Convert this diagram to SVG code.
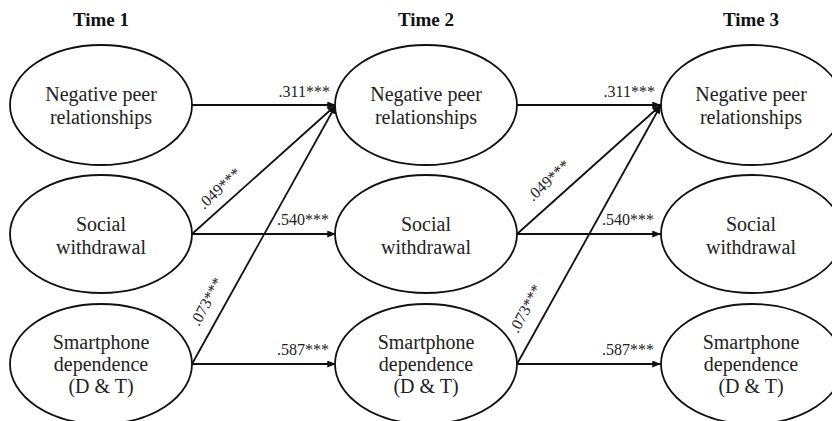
<svg xmlns="http://www.w3.org/2000/svg" width="832" height="421" viewBox="0 0 832 421">
<style>
.node ellipse{fill:#fff;stroke:#111;stroke-width:1.8}
.lbl{font-family:"Liberation Serif","Times New Roman",serif;font-size:20px;fill:#222;text-anchor:middle}
.hdr{font-family:"Liberation Serif","Times New Roman",serif;font-size:19px;font-weight:bold;fill:#111;text-anchor:middle}
.coef{font-family:"Liberation Serif","Times New Roman",serif;font-size:16px;fill:#222}
#connectors line{stroke:#111;stroke-width:1.8;marker-end:url(#arr)}
</style>
<defs>
<marker id="arr" viewBox="0 0 10 8" refX="10" refY="4" markerWidth="9" markerHeight="7" markerUnits="userSpaceOnUse" orient="auto">
<path d="M0,0 L10,4 L0,8 Z" fill="#111"/>
</marker>
</defs>
<rect width="832" height="421" fill="#fff"/>
<g id="headers">
<text class="hdr" x="101" y="25.5">Time 1</text>
<text class="hdr" x="426" y="25.5">Time 2</text>
<text class="hdr" x="751" y="25.5">Time 3</text>
</g>
<g id="connectors">
<line x1="192" y1="105" x2="336" y2="105"/>
<line x1="192" y1="234" x2="336" y2="105"/>
<line x1="192" y1="364" x2="336" y2="105"/>
<line x1="192" y1="234" x2="336" y2="234"/>
<line x1="192" y1="364" x2="336" y2="364"/>
<line x1="517" y1="105" x2="661" y2="105"/>
<line x1="517" y1="234" x2="661" y2="105"/>
<line x1="517" y1="364" x2="661" y2="105"/>
<line x1="517" y1="234" x2="661" y2="234"/>
<line x1="517" y1="364" x2="661" y2="364"/>
<text class="coef" x="330" y="97" text-anchor="end">.311***</text>
<text class="coef" x="329" y="225" text-anchor="end">.540***</text>
<text class="coef" x="329" y="355" text-anchor="end">.587***</text>
<text class="coef" x="655" y="97" text-anchor="end">.311***</text>
<text class="coef" x="654" y="225" text-anchor="end">.540***</text>
<text class="coef" x="654" y="355" text-anchor="end">.587***</text>
<text class="coef" transform="translate(204,210) rotate(-43)">.049***</text>
<text class="coef" transform="translate(533,202) rotate(-43)">.049***</text>
<text class="coef" transform="translate(199,327) rotate(-62)">.073***</text>
<text class="coef" transform="translate(518,334) rotate(-62)">.073***</text>
</g>
<g id="t1-neg" class="node"><ellipse cx="101" cy="105" rx="91" ry="60"/><text class="lbl" x="101" y="101">Negative peer</text><text class="lbl" x="101" y="124">relationships</text></g>
<g id="t1-soc" class="node"><ellipse cx="101" cy="234" rx="91" ry="59"/><text class="lbl" x="101" y="230.5">Social</text><text class="lbl" x="101" y="253.5">withdrawal</text></g>
<g id="t1-sp" class="node"><ellipse cx="101" cy="364" rx="91" ry="60"/><text class="lbl" x="101" y="349">Smartphone</text><text class="lbl" x="101" y="371">dependence</text><text class="lbl" x="101" y="393">(D &amp; T)</text></g>
<g id="t2-neg" class="node"><ellipse cx="426" cy="105" rx="91" ry="60"/><text class="lbl" x="426" y="101">Negative peer</text><text class="lbl" x="426" y="124">relationships</text></g>
<g id="t2-soc" class="node"><ellipse cx="426" cy="234" rx="91" ry="59"/><text class="lbl" x="426" y="230.5">Social</text><text class="lbl" x="426" y="253.5">withdrawal</text></g>
<g id="t2-sp" class="node"><ellipse cx="426" cy="364" rx="91" ry="60"/><text class="lbl" x="426" y="349">Smartphone</text><text class="lbl" x="426" y="371">dependence</text><text class="lbl" x="426" y="393">(D &amp; T)</text></g>
<g id="t3-neg" class="node"><ellipse cx="752" cy="105" rx="91" ry="60"/><text class="lbl" x="751" y="101">Negative peer</text><text class="lbl" x="751" y="124">relationships</text></g>
<g id="t3-soc" class="node"><ellipse cx="752" cy="234" rx="91" ry="59"/><text class="lbl" x="751" y="230.5">Social</text><text class="lbl" x="751" y="253.5">withdrawal</text></g>
<g id="t3-sp" class="node"><ellipse cx="752" cy="364" rx="91" ry="60"/><text class="lbl" x="751" y="349">Smartphone</text><text class="lbl" x="751" y="371">dependence</text><text class="lbl" x="751" y="393">(D &amp; T)</text></g>
</svg>
